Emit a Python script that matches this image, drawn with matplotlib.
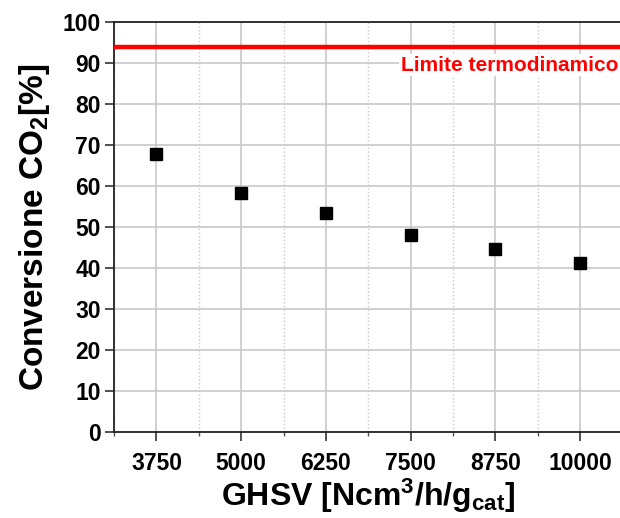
import matplotlib
matplotlib.use('Agg')
import matplotlib.pyplot as plt
from matplotlib.ticker import MultipleLocator

plt.rcParams['font.family'] = ['Liberation Sans', 'DejaVu Sans']
plt.rcParams['font.weight'] = 'bold'
plt.rcParams['mathtext.fontset'] = 'custom'
plt.rcParams['mathtext.bf'] = 'Liberation Sans:bold'
plt.rcParams['mathtext.rm'] = 'Liberation Sans:bold'
plt.rcParams['mathtext.it'] = 'Liberation Sans:bold'
plt.rcParams['mathtext.default'] = 'bf'

# data
ghsv = [3750, 5000, 6250, 7500, 8750, 10000]
conversion = [67.8, 58.2, 53.3, 48.0, 44.6, 41.2]
limite = 94.0
xticks = [3750, 5000, 6250, 7500, 8750, 10000]


def draw():
  fig = plt.figure(figsize=(6.2, 5.18), dpi=100)
  ax = fig.add_axes([0.184, 0.166, 0.820, 0.7915])

  ax.plot(ghsv, conversion, 's', color='black', ms=8.5, zorder=5, clip_on=False)
  ax.axhline(limite, color='red', lw=3.2, zorder=4)
  ax.text(10560, 89.5, 'Limite termodinamico', color='red', fontsize=15,
          fontweight='bold', ha='right', va='center', zorder=6,
          bbox=dict(facecolor='white', edgecolor='none', pad=1))

  ax.set_xlim(3125, 10625)
  ax.set_ylim(0, 100)
  ax.set_xticks(xticks)
  ax.xaxis.set_minor_locator(MultipleLocator(1250, offset=625))
  ax.yaxis.set_major_locator(MultipleLocator(10))

  ax.grid(True, which='major', color='#c8c8c8', lw=1.2)
  ax.grid(True, which='minor', axis='x', color='#c8c8c8', lw=1, ls=':')
  ax.set_axisbelow(True)

  ax.tick_params(which='major', direction='out', length=6.5, width=1.2,
                 labelsize=16.5, color='#333333', pad=3)
  ax.tick_params(axis='x', which='major', pad=8)
  ax.tick_params(which='minor', direction='out', length=3, width=1, color='#555555')
  for lbl in ax.get_xticklabels() + ax.get_yticklabels():
    lbl.set_fontweight('bold')

  for s in ['left', 'bottom', 'top']:
    ax.spines[s].set_linewidth(1.3)
    ax.spines[s].set_color('#222222')
  ax.spines['right'].set_visible(False)

  ax.set_xlabel('GHSV [Ncm$^{3}$/h/g$_{cat}$]', fontsize=23,
                fontweight='bold', labelpad=1)
  ax.set_ylabel('Conversione CO$_{2}$[%]', fontsize=24,
                fontweight='bold', labelpad=8)

  fig.savefig('out.png', dpi=100)


def run():
  draw()

run()
